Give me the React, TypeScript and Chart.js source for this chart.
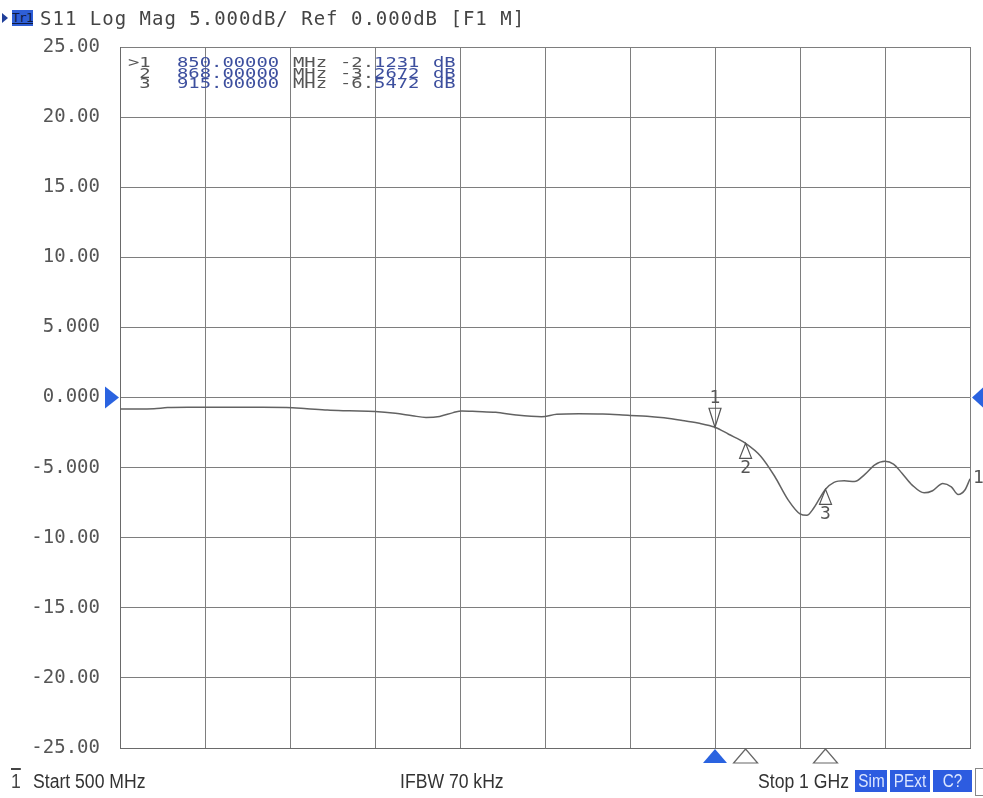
import React, { useEffect, useRef } from "react";
import { Chart, registerables } from "chart.js";

Chart.register(...registerables);

// ---- Data ----
const freqMHz = [500, 510, 520, 528, 540, 560, 580, 598, 610, 622, 635, 650, 662, 672, 680, 688, 696, 701, 710, 721, 733, 748, 757, 770, 784, 800, 810, 820, 830, 840, 850, 858, 868, 877, 885, 893, 900, 904, 908, 912, 915, 920, 926, 932, 938, 944, 950, 955, 960, 966, 973, 978, 984, 989, 993, 997, 1000];
const s11dB = [-0.82, -0.82, -0.8, -0.72, -0.7, -0.7, -0.7, -0.71, -0.8, -0.9, -0.95, -1.0, -1.13, -1.3, -1.42, -1.35, -1.08, -0.96, -1.0, -1.06, -1.25, -1.37, -1.2, -1.16, -1.18, -1.28, -1.33, -1.45, -1.62, -1.82, -2.12, -2.62, -3.27, -4.2, -5.6, -7.3, -8.3, -8.4, -7.9, -7.1, -6.55, -6.05, -5.94, -6.0, -5.5, -4.8, -4.55, -4.75, -5.4, -6.25, -6.8, -6.65, -6.13, -6.37, -6.92, -6.6, -5.8];

const markerNames = ["1", "2", "3"];
const markerFreqs = [850, 868, 915];
const markerDB = [-2.1231, -3.2672, -6.5472];
const activeMarker = 0;

const yTickValues = [25, 20, 15, 10, 5, 0, -5, -10, -15, -20, -25];
const yTickLabels = ["25.00", "20.00", "15.00", "10.00", "5.000", "0.000", "-5.000", "-10.00", "-15.00", "-20.00", "-25.00"];
const refLevel = 0;
const startMHz = 500;
const stopMHz = 1000;

const headerText = "S11 Log Mag 5.000dB/ Ref 0.000dB [F1 M]";
const footerStart = "Start 500 MHz";
const footerIfbw = "IFBW 70 kHz";
const footerStop = "Stop 1 GHz";
const footerButtons = ["Sim", "PExt", "C?"];

const MONO = "'DejaVu Sans Mono', 'Liberation Mono', monospace";
const SANS = "'Liberation Sans', Arial, sans-serif";

const markerPlugin = {
  id: "vnaMarkers",
  afterDraw(chart: any) {
    const { ctx, chartArea, scales } = chart;
    const xs = scales.x;
    const ys = scales.y;
    ctx.save();
    ctx.lineWidth = 1.2;
    ctx.strokeStyle = "#555";
    ctx.fillStyle = "#555";
    ctx.font = `18px ${MONO}`;
    ctx.textAlign = "center";
    ctx.textBaseline = "middle";
    markerFreqs.forEach((f, i) => {
      const px = xs.getPixelForValue(f);
      const py = ys.getPixelForValue(markerDB[i]);
      ctx.beginPath();
      if (i === activeMarker) {
        ctx.moveTo(px, py);
        ctx.lineTo(px - 6, py - 19);
        ctx.lineTo(px + 6, py - 19);
        ctx.closePath();
        ctx.stroke();
        ctx.fillText(markerNames[i], px, py - 29);
      } else {
        ctx.moveTo(px, py);
        ctx.lineTo(px - 6, py + 15);
        ctx.lineTo(px + 6, py + 15);
        ctx.closePath();
        ctx.stroke();
        ctx.fillText(markerNames[i], px, py + 25);
      }
      // bottom indicator triangles
      const by = chartArea.bottom + 1;
      ctx.beginPath();
      ctx.moveTo(px, by);
      ctx.lineTo(px - 12, by + 14);
      ctx.lineTo(px + 12, by + 14);
      ctx.closePath();
      if (i === activeMarker) {
        ctx.fillStyle = "#2a63e0";
        ctx.fill();
        ctx.fillStyle = "#555";
      } else {
        ctx.strokeStyle = "#666";
        ctx.stroke();
        ctx.strokeStyle = "#555";
      }
    });
    // reference level arrows
    const ry = ys.getPixelForValue(refLevel);
    ctx.fillStyle = "#2a63e0";
    ctx.beginPath();
    ctx.moveTo(chartArea.left - 1, ry);
    ctx.lineTo(chartArea.left - 15, ry - 11);
    ctx.lineTo(chartArea.left - 15, ry + 11);
    ctx.closePath();
    ctx.fill();
    ctx.beginPath();
    ctx.moveTo(chartArea.right + 2, ry);
    ctx.lineTo(chartArea.right + 14, ry - 11);
    ctx.lineTo(chartArea.right + 14, ry + 11);
    ctx.closePath();
    ctx.fill();
    // trace number at end
    ctx.fillStyle = "#555";
    ctx.textAlign = "left";
    ctx.fillText("1", chartArea.right + 3, ys.getPixelForValue(s11dB[s11dB.length - 1]));
    ctx.restore();
  },
};

function MarkerTable() {
  const rowCenters = [62, 72.5, 83];
  const lh = 12;
  const base: React.CSSProperties = {
    position: "absolute",
    fontFamily: MONO,
    fontSize: 14.5,
    lineHeight: `${lh}px`,
    whiteSpace: "pre",
    transform: "scaleX(1.3)",
    transformOrigin: "0 50%",
  };
  const blue = "#3d4f9e";
  const gray = "#555";
  return (
    <>
      {markerFreqs.map((f, i) => {
        const top = rowCenters[i] - lh / 2;
        const v = markerDB[i].toFixed(4);
        return (
          <React.Fragment key={i}>
            <div style={{ ...base, left: 128, top, color: gray }}>{(i === activeMarker ? ">" : " ") + markerNames[i]}</div>
            <div style={{ ...base, left: 177, top, color: blue }}>{f.toFixed(5)}</div>
            <div style={{ ...base, left: 293, top, color: gray }}>MHz</div>
            <div style={{ ...base, left: 340, top }}>
              <span style={{ color: gray }}>{v.slice(0, 3)}</span>
              <span style={{ color: blue }}>{v.slice(3)}</span>
            </div>
            <div style={{ ...base, left: 433, top, color: blue }}>dB</div>
          </React.Fragment>
        );
      })}
    </>
  );
}

const footStyle: React.CSSProperties = {
  position: "absolute",
  top: 768,
  fontFamily: SANS,
  fontSize: 20,
  color: "#333",
  lineHeight: "26px",
  whiteSpace: "pre",
  transform: "scaleX(0.88)",
  transformOrigin: "0 50%",
};

export default function App() {
  const canvasRef = useRef<HTMLCanvasElement | null>(null);

  useEffect(() => {
    const canvas = canvasRef.current;
    if (!canvas) return;
    const chart = new Chart(canvas, {
      type: "line",
      data: {
        datasets: [
          {
            label: "S11",
            data: freqMHz.map((f, i) => ({ x: f, y: s11dB[i] })),
            borderColor: "#626262",
            borderWidth: 1.5,
            pointRadius: 0,
            cubicInterpolationMode: "monotone",
            fill: false,
          },
        ],
      },
      options: {
        responsive: false,
        animation: false,
        devicePixelRatio: 1,
        layout: { padding: { left: 0, top: 47, right: 13, bottom: 50 } },
        plugins: { legend: { display: false }, tooltip: { enabled: false } },
        scales: {
          x: {
            type: "linear",
            min: startMHz,
            max: stopMHz,
            ticks: { display: false, stepSize: 50 },
            grid: { color: "#7e7e7e", lineWidth: 1, drawTicks: false },
            border: { display: true, color: "#6a6a6a" },
            afterFit: (s: any) => {
              s.height = 0;
            },
          },
          y: {
            type: "linear",
            min: -25,
            max: 25,
            ticks: {
              stepSize: 5,
              padding: 20,
              color: "#555",
              font: { family: MONO, size: 19 },
              callback: (value: any) => {
                const idx = yTickValues.indexOf(Number(value));
                return idx >= 0 ? yTickLabels[idx] : "";
              },
            },
            grid: { color: "#7e7e7e", lineWidth: 1, drawTicks: false },
            border: { display: true, color: "#6a6a6a" },
            afterFit: (s: any) => {
              s.width = 120;
            },
          },
        },
      },
      plugins: [markerPlugin],
    } as any);
    return () => chart.destroy();
  }, []);

  return (
    <div style={{ position: "fixed", left: 0, top: 0, width: 983, height: 798, background: "#fff", overflow: "hidden" }}>
      <canvas ref={canvasRef} width={983} height={798} style={{ position: "absolute", left: 0, top: 0, display: "block" }} />
      {/* header */}
      <div style={{ position: "absolute", left: 2, top: 13, width: 0, height: 0, borderTop: "5px solid transparent", borderBottom: "5px solid transparent", borderLeft: "6px solid #1f3f9a" }} />
      <div style={{ position: "absolute", left: 12, top: 10, width: 21, height: 16, background: "#2f5fd6", color: "#0e1a44", fontFamily: MONO, fontSize: 13, letterSpacing: "-0.8px", lineHeight: "16px", textAlign: "center", textDecoration: "underline", overflow: "hidden" }}>Tr1</div>
      <div style={{ position: "absolute", left: 40, top: 6, fontFamily: MONO, fontSize: 19, letterSpacing: "1px", color: "#444", whiteSpace: "pre", lineHeight: "24px" }}>{headerText}</div>
      <MarkerTable />
      {/* footer */}
      <div style={{ ...footStyle, left: 11, textDecoration: "overline", color: "#444" }}>1</div>
      <div style={{ ...footStyle, left: 33 }}>{footerStart}</div>
      <div style={{ ...footStyle, left: 400 }}>{footerIfbw}</div>
      <div style={{ ...footStyle, left: 758 }}>{footerStop}</div>
      {footerButtons.map((b, i) => {
        const lefts = [855, 890, 933];
        const widths = [32, 40, 39];
        return (
          <div key={b} style={{ position: "absolute", left: lefts[i], top: 770, width: widths[i], height: 22, background: "#2d5ce0", color: "#dce6ff", fontFamily: SANS, fontSize: 18, lineHeight: "22px", textAlign: "center", overflow: "hidden" }}>
            <span style={{ display: "inline-block", transform: "scaleX(0.85)" }}>{b}</span>
          </div>
        );
      })}
      <div style={{ position: "absolute", left: 975, top: 768, width: 12, height: 26, border: "1px solid #888", background: "#fff" }} />
    </div>
  );
}
